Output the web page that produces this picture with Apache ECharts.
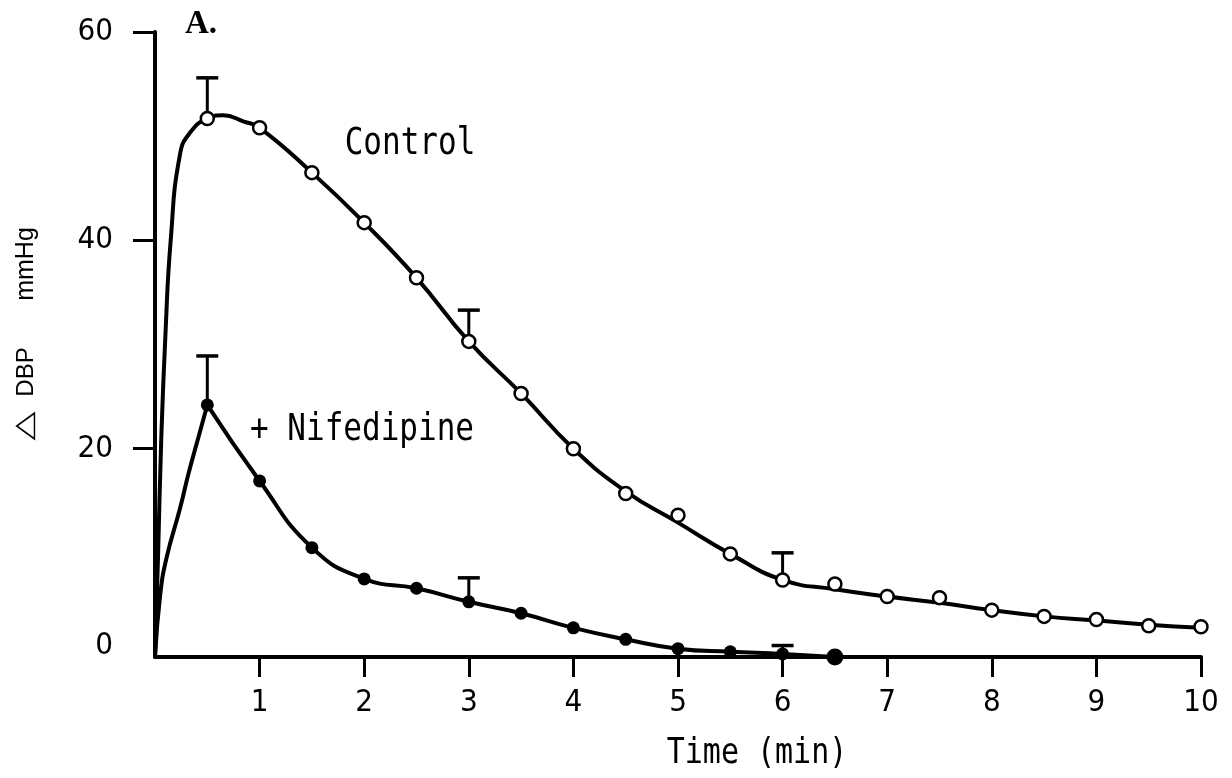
<!DOCTYPE html>
<html><head><meta charset="utf-8">
<script src="https://cdn.jsdelivr.net/npm/echarts@6/dist/echarts.min.js"></script>
<style>html,body{margin:0;padding:0;background:#fff}#c{width:1232px;height:778px}</style>
</head><body><div id="c"></div>
<script>
// ---- data ----
const xTicks = [1, 2, 3, 4, 5, 6, 7, 8, 9, 10];
const yTickLabels = [0, 20, 40, 60];
const yTicks = [20, 40, 60];

const controlTimes = [0.5, 1, 1.5, 2, 2.5, 3, 3.5, 4, 4.5, 5, 5.5, 6, 6.5, 7, 7.5, 8, 8.5, 9, 9.5, 10];
const controlMeans = [51.7, 50.8, 46.5, 41.7, 36.4, 30.3, 25.3, 20.0, 15.7, 13.6, 9.9, 7.4, 7.0, 5.8, 5.7, 4.5, 3.9, 3.6, 3.0, 2.9];
const controlCurveX = [0, 0.03, 0.06, 0.1, 0.15, 0.24, 0.34, 0.5, 0.65, 0.85, 1, 1.5, 2, 2.5, 3, 3.5, 4, 4.5, 5, 5.5, 6, 6.5, 7, 7.5, 8, 8.5, 9, 9.5, 10];
const controlCurveY = [0, 10, 21, 31, 40, 48.3, 50.4, 51.7, 52.0, 51.4, 50.8, 46.5, 41.7, 36.4, 30.3, 25.3, 20.0, 15.9, 12.9, 9.9, 7.4, 6.5, 5.8, 5.2, 4.5, 3.9, 3.5, 3.1, 2.8];
const controlErrX = [0.5, 3, 6];
const controlErrTop = [55.6, 33.3, 10.0];

const nifTimes = [0.5, 1, 1.5, 2, 2.5, 3, 3.5, 4, 4.5, 5, 5.5, 6, 6.5];
const nifMeans = [24.2, 16.9, 10.5, 7.5, 6.6, 5.3, 4.2, 2.8, 1.7, 0.8, 0.5, 0.3, 0];
const nifRiseX = [0, 0.05, 0.11, 0.24, 0.32, 0.41, 0.5];
const nifRiseY = [0, 6, 9.5, 14.3, 17.6, 20.9, 24.2];
const nifErrX = [0.5, 3, 6];
const nifErrTop = [28.9, 7.6, 1.1];

// ---- chart ----
const BLACK = '#000';
const tickFont = "'Liberation Sans Narrow','DejaVu Sans Condensed','Liberation Sans',sans-serif";
const monoFont = "'DejaVu Sans Mono','Liberation Mono',monospace";
const sansFont = "'Liberation Sans','DejaVu Sans',sans-serif";

function pairs(xs, ys) { return xs.map((x, i) => [x, ys[i]]); }
function errData(errX, errTop, times, means) {
  return errX.map((x, i) => [x, means[times.indexOf(x)], errTop[i]]);
}
function errRender(params, api) {
  const base = api.coord([api.value(0), api.value(1)]);
  const top = api.coord([api.value(0), api.value(2)]);
  const hw = 11;
  return {
    type: 'group',
    children: [
      { type: 'line', shape: { x1: base[0], y1: base[1], x2: top[0], y2: top[1] }, style: { stroke: BLACK, lineWidth: 3 } },
      { type: 'line', shape: { x1: top[0] - hw, y1: top[1], x2: top[0] + hw, y2: top[1] }, style: { stroke: BLACK, lineWidth: 3.5 } }
    ]
  };
}

const chart = echarts.init(document.getElementById('c'), null, { renderer: 'canvas' });
chart.setOption({
  animation: false,
  backgroundColor: '#fff',
  grid: { left: 155, right: 31, top: 32, bottom: 121, containLabel: false },
  xAxis: {
    type: 'value', min: 0, max: 10, interval: 1,
    axisLine: { show: true, lineStyle: { color: BLACK, width: 4 } },
    axisTick: { show: true, length: 20, customValues: xTicks, lineStyle: { color: BLACK, width: 3 } },
    axisLabel: { customValues: xTicks, color: BLACK, fontFamily: tickFont, fontSize: 31, margin: 30 },
    splitLine: { show: false }
  },
  yAxis: {
    type: 'value', min: 0, max: 60, interval: 20,
    axisLine: { show: true, lineStyle: { color: BLACK, width: 4 } },
    axisTick: { show: true, length: 22, customValues: yTicks, lineStyle: { color: BLACK, width: 3 } },
    axisLabel: {
      customValues: yTickLabels, color: BLACK, fontFamily: tickFont, fontSize: 31, margin: 42,
      formatter: v => (v === 0 ? '{z|0}' : String(v)),
      rich: { z: { fontFamily: tickFont, fontSize: 31, color: BLACK, padding: [0, 0, 22, 0] } }
    },
    splitLine: { show: false }
  },
  series: [
    { type: 'line', data: pairs(controlCurveX, controlCurveY), showSymbol: false, smooth: 0.5,
      lineStyle: { color: BLACK, width: 4 }, z: 2, silent: true },
    { type: 'line', data: pairs(nifRiseX, nifRiseY), showSymbol: false, smooth: 0.5,
      lineStyle: { color: BLACK, width: 4 }, z: 2, silent: true },
    { type: 'line', data: pairs(nifTimes, nifMeans), showSymbol: false, smooth: 0.5,
      lineStyle: { color: BLACK, width: 4 }, z: 2, silent: true },
    { type: 'custom', renderItem: errRender, data: errData(controlErrX, controlErrTop, controlTimes, controlMeans), z: 3, silent: true },
    { type: 'custom', renderItem: errRender, data: errData(nifErrX, nifErrTop, nifTimes, nifMeans), z: 3, silent: true },
    { type: 'scatter', data: pairs(controlTimes, controlMeans), symbol: 'circle', symbolSize: 13,
      itemStyle: { color: '#fff', borderColor: BLACK, borderWidth: 2.5, opacity: 1 }, z: 5, silent: true },
    { type: 'scatter', data: pairs(nifTimes, nifMeans), symbol: 'circle',
      symbolSize: (v, p) => p.dataIndex === nifTimes.length - 1 ? 17 : 13,
      itemStyle: { color: BLACK, opacity: 1 }, z: 5, silent: true }
  ],
  graphic: [
    { type: 'text', x: 201, y: 24, style: { text: 'A.', fontFamily: "'Liberation Serif','DejaVu Serif',serif", fontWeight: 'bold', fontSize: 33, fill: BLACK, align: 'center', verticalAlign: 'middle' } },
    { type: 'text', x: 410, y: 144, scaleY: 1.2, style: { text: 'Control', fontFamily: monoFont, fontSize: 31, fill: BLACK, align: 'center', verticalAlign: 'middle' } },
    { type: 'text', x: 362, y: 430, scaleY: 1.2, style: { text: '+ Nifedipine', fontFamily: monoFont, fontSize: 31, fill: BLACK, align: 'center', verticalAlign: 'middle' } },
    { type: 'text', x: 757, y: 754, scaleY: 1.2, style: { text: 'Time (min)', fontFamily: monoFont, fontSize: 30, fill: BLACK, align: 'center', verticalAlign: 'middle' } },
    // y-axis title, rotated (reads bottom to top)
    { type: 'text', x: 25, y: 426, rotation: Math.PI / 2, scaleX: 1.45, style: { text: '△', fontFamily: "'DejaVu Sans',sans-serif", fontSize: 26, fill: BLACK, align: 'center', verticalAlign: 'middle' } },
    { type: 'text', x: 26, y: 372, rotation: Math.PI / 2, style: { text: 'DBP', fontFamily: sansFont, fontSize: 24, fill: BLACK, align: 'center', verticalAlign: 'middle' } },
    { type: 'text', x: 26, y: 264, rotation: Math.PI / 2, style: { text: 'mmHg', fontFamily: sansFont, fontSize: 25, fill: BLACK, align: 'center', verticalAlign: 'middle' } }
  ]
});
</script>
</body></html>
